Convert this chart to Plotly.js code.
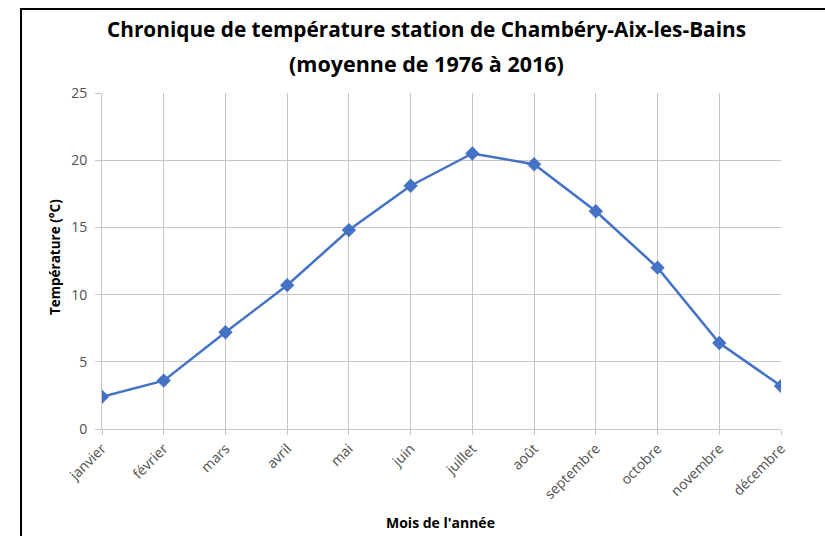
<!DOCTYPE html>
<html>
<head>
<meta charset="utf-8">
<script src="https://cdn.plot.ly/plotly-3.0.1.min.js"></script>
<style>
html,body{margin:0;padding:0;background:#fff;}
#wrap{position:relative;width:825px;height:536px;overflow:hidden;}
#chart{width:825px;height:536px;}
#frame{position:absolute;left:20px;top:8px;width:900px;height:700px;border-left:2.5px solid #000;border-top:2.5px solid #000;pointer-events:none;}
</style>
</head>
<body>
<div id="wrap"><div id="chart"></div><div id="frame"></div></div>
<script>
const months = ["janvier","février","mars","avril","mai","juin","juillet","août","septembre","octobre","novembre","décembre"];
const temperatures = [2.4, 3.6, 7.2, 10.7, 14.8, 18.1, 20.5, 19.7, 16.2, 12.0, 6.4, 3.2];
const titleLine1 = "Chronique de température station de Chambéry-Aix-les-Bains";
const titleLine2 = "(moyenne de 1976 à 2016)";
const xTitle = "Mois de l'année";
const yTitle = "Température (°C)";
const yTicks = [0, 5, 10, 15, 20, 25];

const blue = "#4472C4";
const grid = "#c6c6c6";
const font = "Open Sans, sans-serif";

const trace = {
  x: months,
  y: temperatures,
  type: "scatter",
  mode: "lines+markers",
  line: {color: blue, width: 2.5},
  marker: {symbol: "diamond", size: 11, color: blue},
  hoverinfo: "x+y"
};

const layout = {
  width: 825, height: 536,
  margin: {l: 102, r: 44, t: 93, b: 107},
  paper_bgcolor: "#fff", plot_bgcolor: "#fff",
  showlegend: false,
  title: {
    text: "<b>" + titleLine1 + "</b>",
    font: {family: font, size: 20.8, color: "#000"},
    xref: "container", x: 0.517, xanchor: "center",
    yref: "container", y: 1 - 30/536, yanchor: "middle"
  },
  xaxis: {
    type: "category",
    range: [0, 11],
    showgrid: true, gridcolor: grid, gridwidth: 1,
    showline: true, linecolor: grid, linewidth: 1,
    ticks: "outside", ticklen: 5, tickcolor: grid,
    tickangle: -45,
    tickfont: {family: font, size: 14, color: "#505050"},
    zeroline: false, fixedrange: true
  },
  yaxis: {
    range: [0, 25],
    tickvals: yTicks,
    showgrid: true, gridcolor: grid, gridwidth: 1,
    showline: true, linecolor: grid, linewidth: 1,
    ticks: "outside", ticklen: 6, tickcolor: grid,
    ticklabelstandoff: 5,
    tickfont: {family: font, size: 14, color: "#505050"},
    zeroline: false, fixedrange: true
  },
  annotations: [
    {text: "<b>" + titleLine2 + "</b>", xref: "paper", yref: "paper",
     x: (426 - 102) / 679, y: (429 - 63) / 336, xanchor: "center", yanchor: "middle",
     showarrow: false, font: {family: font, size: 21.5, color: "#000"}},
    {text: "<b>" + xTitle + "</b>", xref: "paper", yref: "paper",
     x: (440 - 102) / 679, y: -(522 - 429) / 336, xanchor: "center", yanchor: "middle",
     showarrow: false, font: {family: font, size: 14, color: "#000"}},
    {text: "<b>" + yTitle + "</b>", xref: "paper", yref: "paper",
     x: (55 - 102) / 679, y: (429 - 257) / 336, xanchor: "center", yanchor: "middle",
     textangle: -90, showarrow: false, font: {family: font, size: 13.5, color: "#000"}}
  ]
};

Plotly.newPlot("chart", [trace], layout, {displayModeBar: false, staticPlot: true});
</script>
</body>
</html>
